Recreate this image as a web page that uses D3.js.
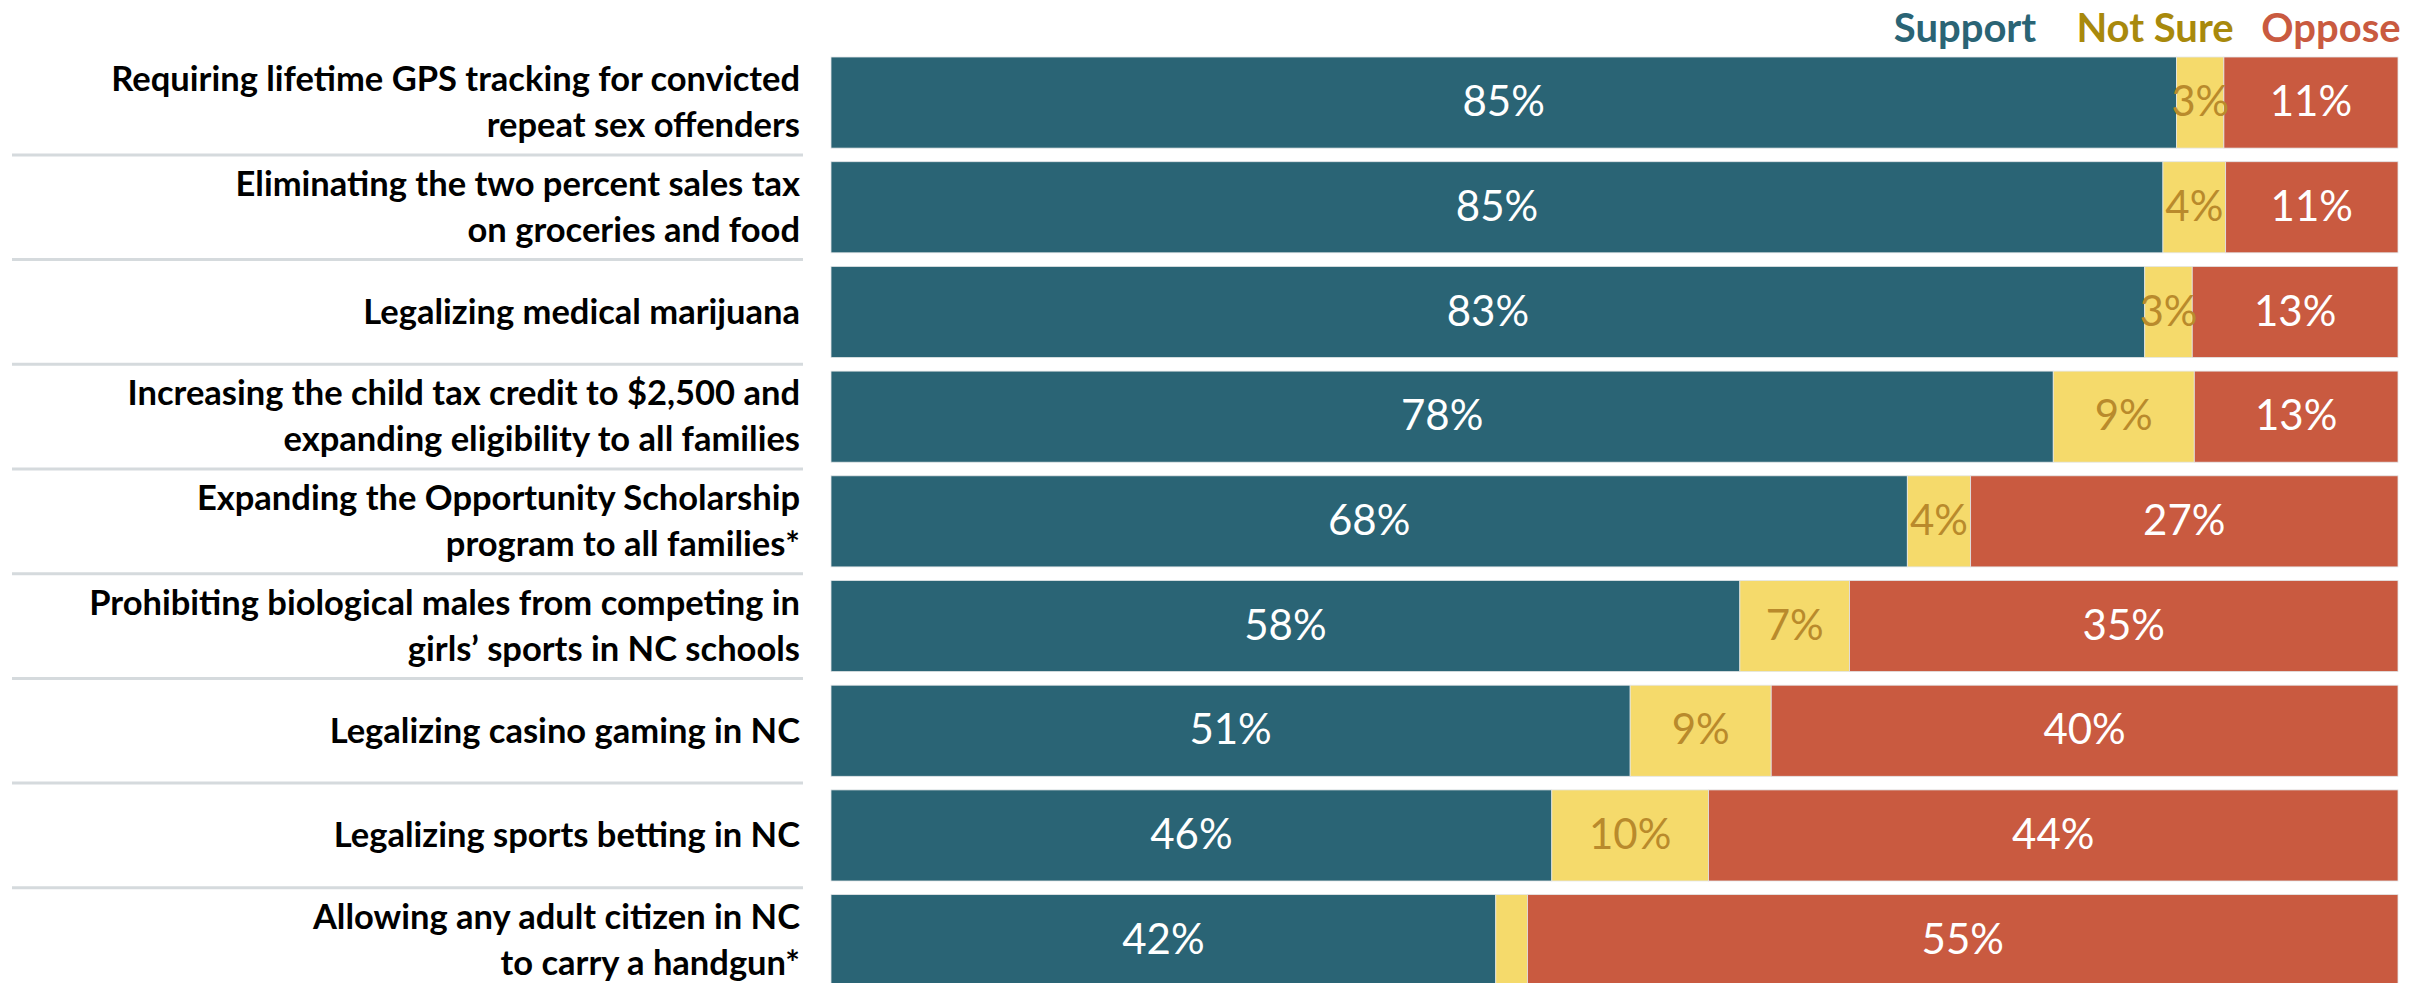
<!DOCTYPE html>
<html><head><meta charset="utf-8">
<script src="https://cdn.jsdelivr.net/npm/d3@7"></script>
<style>html,body{margin:0;padding:0;background:#fff;overflow:hidden}</style>
</head><body>
<svg id="chart" width="2427" height="983"></svg>
<script>
const categories = [
  ["Requiring lifetime GPS tracking for convicted", "repeat sex offenders"],
  ["Eliminating the two percent sales tax", "on groceries and food"],
  ["Legalizing medical marijuana"],
  ["Increasing the child tax credit to $2,500 and", "expanding eligibility to all families"],
  ["Expanding the Opportunity Scholarship", "program to all families*"],
  ["Prohibiting biological males from competing in", "girls\u2019 sports in NC schools"],
  ["Legalizing casino gaming in NC"],
  ["Legalizing sports betting in NC"],
  ["Allowing any adult citizen in NC", "to carry a handgun*"]
];
const support = [85, 85, 83, 78, 68, 58, 51, 46, 42];
const notSure = [3, 4, 3, 9, 4, 7, 9, 10, 2];
const oppose  = [11, 11, 13, 13, 27, 35, 40, 44, 55];
const seriesNames = ["Support", "Not Sure", "Oppose"];
const showLabel = [[true,true,true],[true,true,true],[true,true,true],[true,true,true],[true,true,true],[true,true,true],[true,true,true],[true,true,true],[true,false,true]];

const colors = ["#2a6475", "#f5da6b", "#c95a40"];
const legendColors = ["#2a6475", "#a8890c", "#c95a40"];
const labelColors = ["#ffffff", "#b98a2c", "#ffffff"];

const svg = d3.select("#chart");
const font = "Lato, 'Open Sans', sans-serif";

const keys = categories.map((d, i) => i);
const step = 104.7;
const y = d3.scaleBand().domain(keys).range([43.4, 43.4 + step * 9.13]).padding(0.13);
const x0 = 831, x1 = 2398;

const rows = keys.map(i => [support[i], notSure[i], oppose[i]]);

// separators
const sepG = svg.append("g");
keys.slice(1).forEach(i => {
  const yy = y(i) - (y.step() - y.bandwidth()) / 2;
  sepG.append("line").attr("x1", 12).attr("x2", 803).attr("y1", yy).attr("y2", yy)
    .attr("stroke", "#d5dadd").attr("stroke-width", 3);
});

// bars
rows.forEach((vals, i) => {
  const total = d3.sum(vals);
  const x = d3.scaleLinear().domain([0, total]).range([x0, x1]);
  let acc = 0;
  const g = svg.append("g");
  vals.forEach((v, k) => {
    const a = acc, b = acc + v; acc = b;
    g.append("rect").attr("x", x(a)).attr("y", y(i)).attr("width", x(b) - x(a)).attr("height", y.bandwidth())
      .attr("fill", colors[k]).attr("stroke", "#e3e6e8").attr("stroke-width", 0.8);
  });
  acc = 0;
  vals.forEach((v, k) => {
    const a = acc, b = acc + v; acc = b;
    if (!showLabel[i][k]) return;
    g.append("text").attr("x", (x(a) + x(b)) / 2).attr("y", y(i) + y.bandwidth() / 2 + 3)
      .attr("text-anchor", "middle").attr("dominant-baseline", "middle")
      .attr("font-family", font).attr("font-size", 42).attr("fill", labelColors[k])
      .text(v + "%");
  });
  // category label
  const lines = categories[i];
  const cy = y(i) + y.bandwidth() / 2 + 3;
  const lh = 46;
  lines.forEach((t, j) => {
    svg.append("text").attr("x", 800).attr("y", cy + (j - (lines.length - 1) / 2) * lh)
      .attr("text-anchor", "end").attr("dominant-baseline", "middle")
      .attr("font-family", font).attr("font-weight", "bold").attr("font-size", 34.5).attr("fill", "#000")
      .text(t);
  });
});

// legend
const legendX = [1965, 2155, 2331];
seriesNames.forEach((n, k) => {
  svg.append("text").attr("x", legendX[k]).attr("y", 42).attr("text-anchor", "middle")
    .attr("font-family", font).attr("font-weight", "bold").attr("font-size", 40)
    .attr("fill", legendColors[k]).text(n);
});
</script>
</body></html>
